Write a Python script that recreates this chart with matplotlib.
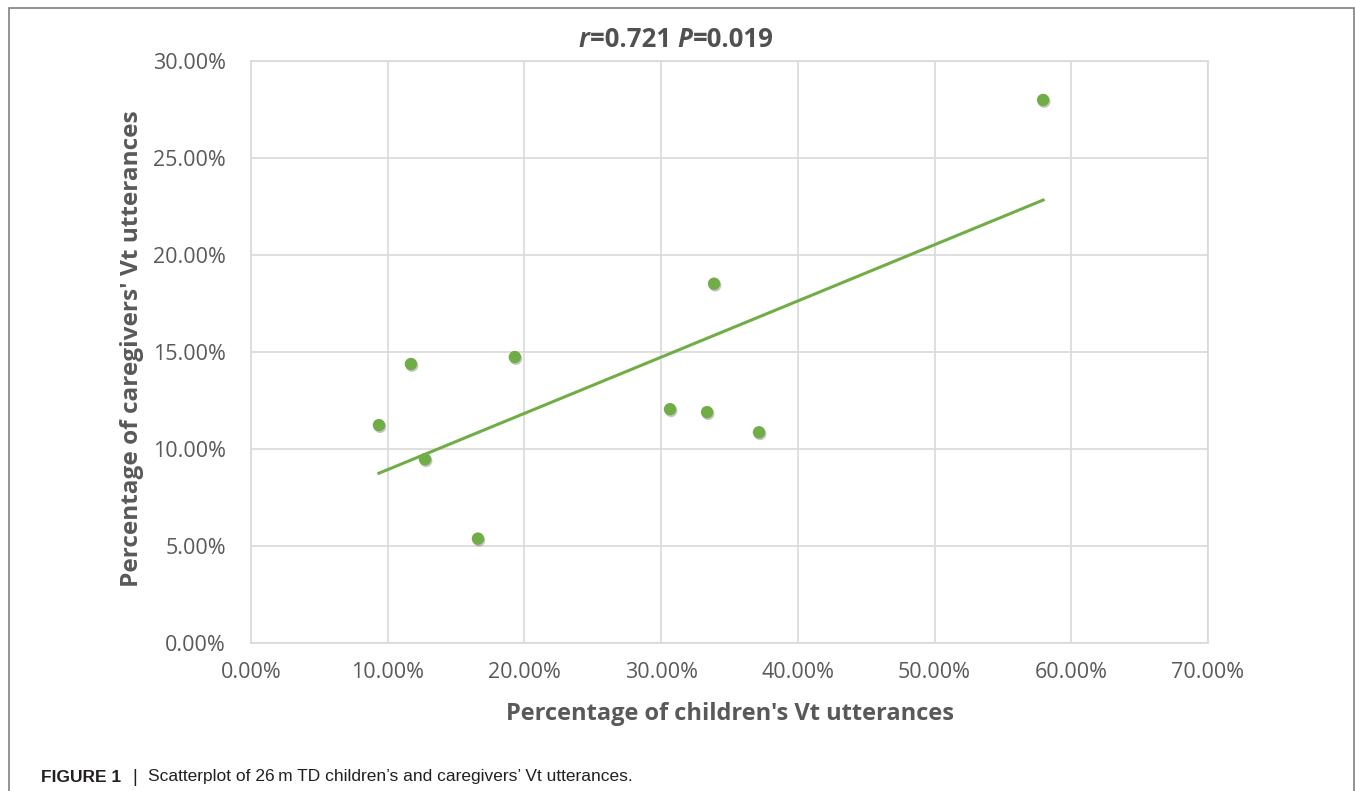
import matplotlib.pyplot as plt
import matplotlib.patches as patches
import matplotlib.patheffects as pe
import numpy as np
from matplotlib.ticker import FuncFormatter

# data (percent)
children_vt = [9.36, 11.70, 12.73, 16.60, 19.30, 30.65, 33.36, 33.87, 37.16, 57.94]
caregivers_vt = [11.23, 14.38, 9.47, 5.38, 14.74, 12.05, 11.90, 18.52, 10.86, 27.99]
x_ticks = [0, 10, 20, 30, 40, 50, 60, 70]
y_ticks = [0, 5, 10, 15, 20, 25, 30]

green = '#70ad47'
grid_col = '#d9d9d9'
txt_col = '#595959'

plt.rcParams['font.family'] = ['Open Sans', 'DejaVu Sans']

W, H = 1355, 791
fig = plt.figure(figsize=(W / 100, H / 100), dpi=100)
ax = fig.add_axes([251 / W, 1 - 643 / H, (1208 - 251) / W, (643 - 61) / H])

# trendline (least squares)
slope, icpt = np.polyfit(children_vt, caregivers_vt, 1)
xl = np.array([min(children_vt), max(children_vt)])
ax.plot(xl, slope * xl + icpt, color=green, lw=2.2, zorder=3)

sc = ax.scatter(children_vt, caregivers_vt, s=80, color=green, zorder=4, linewidths=0)
sc.set_path_effects([pe.SimplePatchShadow(offset=(0.8, -1.2), alpha=0.3, shadow_rgbFace='#404040'),
                     pe.Normal()])

ax.set_xlim(0, 70)
ax.set_ylim(0, 30)
ax.set_xticks(x_ticks)
ax.set_yticks(y_ticks)
ax.xaxis.set_major_formatter(FuncFormatter(lambda v, p: f'{v:.2f}%'))
ax.yaxis.set_major_formatter(FuncFormatter(lambda v, p: f'{v:.2f}%'))
ax.grid(True, color=grid_col, lw=1.2)
ax.set_axisbelow(True)
for s in ax.spines.values():
    s.set_color(grid_col)
    s.set_linewidth(1.2)
ax.tick_params(length=0, labelsize=15.5, colors=txt_col)
ax.tick_params(axis='x', pad=14)
ax.tick_params(axis='y', pad=18)

fig.text(730 / W, 1 - 714 / H, "Percentage of children's Vt utterances", ha='center', va='center',
         fontsize=17, fontweight='bold', color=txt_col)
fig.text(132 / W, 1 - 349 / H, "Percentage of caregivers' Vt utterances", ha='center', va='center',
         rotation=90, fontsize=17.6, fontweight='bold', color=txt_col)

# title with italic r and P, each piece placed after the previous one
pieces = [('r', 'italic'), ('=0.721 ', 'normal'), ('P', 'italic'), ('=0.019', 'normal')]
prev = fig.text(579 / W, 1 - 47 / H, pieces[0][0], ha='left', va='baseline', fontsize=18.5,
                fontweight='bold', fontstyle=pieces[0][1], color='#505050')
for txt, st in pieces[1:]:
    prev = ax.annotate(txt, xy=(1, 0), xycoords=prev, ha='left', va='bottom', fontsize=18.5,
                       fontweight='bold', fontstyle=st, color='#505050', annotation_clip=False)

# outer frame
fig.patches.append(patches.Rectangle((9 / W, -0.05), (1354 - 9) / W, 1.05 - 8 / H,
                                     transform=fig.transFigure, fill=False,
                                     edgecolor='#808080', lw=1.2))

cap_font = ['Liberation Sans', 'DejaVu Sans']
fig.text(41 / W, 1 - 777 / H, 'FIGURE 1', ha='left', va='center', fontsize=12.5,
         fontweight='bold', family=cap_font, color='#231f20')
fig.text(135 / W, 1 - 777 / H, "|", ha='center', va='center', fontsize=13,
         family=cap_font, color='#231f20')
fig.text(148 / W, 1 - 777 / H, "Scatterplot of 26\u2009m TD children\u2019s and caregivers\u2019 Vt utterances.",
         ha='left', va='center', fontsize=12.5, family=cap_font, color='#231f20')

fig.savefig('out.png', dpi=100)
